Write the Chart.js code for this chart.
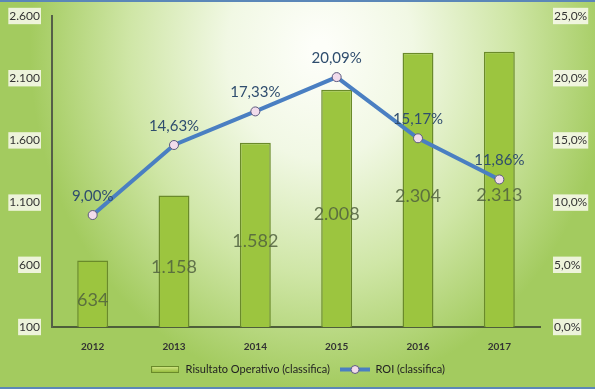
<!DOCTYPE html>
<html>
<head>
<meta charset="utf-8">
<script src="https://cdn.jsdelivr.net/npm/chart.js@4.4.1/dist/chart.umd.min.js"></script>
<style>
  html, body { margin: 0; padding: 0; background: #ffffff; }
  #wrap { width: 595px; height: 389px; }
</style>
</head>
<body>
<div id="wrap"><canvas id="grafico" width="595" height="389"></canvas></div>
<script>
var anni = ["2012", "2013", "2014", "2015", "2016", "2017"];
var risultatoOperativo = [634, 1158, 1582, 2008, 2304, 2313];
var roi = [9.00, 14.63, 17.33, 20.09, 15.17, 11.86];

function numIt(v) {
    return Math.round(v).toString().replace(/\B(?=(\d{3})+(?!\d))/g, ".");
}
function pctIt(v, dec) {
    return v.toFixed(dec).replace(".", ",") + "%";
}

// icone legenda
function iconaBarra() {
    var cv = document.createElement("canvas");
    cv.width = 28; cv.height = 7;
    var c = cv.getContext("2d");
    var g = c.createLinearGradient(0, 0, 0, 7);
    g.addColorStop(0, "#d8ec8c");
    g.addColorStop(1, "#8db533");
    c.fillStyle = g;
    c.fillRect(0, 0, 28, 7);
    c.strokeStyle = "#6a8a2a";
    c.strokeRect(0.5, 0.5, 27, 6);
    return cv;
}
function iconaLinea() {
    var cv = document.createElement("canvas");
    cv.width = 30; cv.height = 11;
    var c = cv.getContext("2d");
    c.strokeStyle = "#4a7fc2";
    c.lineWidth = 4;
    c.beginPath(); c.moveTo(0, 5.5); c.lineTo(30, 5.5); c.stroke();
    c.fillStyle = "#f2dcec";
    c.strokeStyle = "#5d5a7e";
    c.lineWidth = 1;
    c.beginPath(); c.arc(15, 5.5, 4, 0, Math.PI * 2); c.fill(); c.stroke();
    return cv;
}
var icone = [iconaBarra(), iconaLinea()];

// sfondo sfumato ellittico + bordi blu
var sfondo = {
    id: "sfondo",
    beforeDraw: function (chart) {
        var c = chart.ctx, w = chart.width, h = chart.height;
        c.save();
        c.fillStyle = "#a3cb5f";
        c.fillRect(0, 0, w, h);
        c.translate(320, 50);
        c.scale(290 / 340, 1);
        var g = c.createRadialGradient(0, 0, 10, 0, 0, 340);
        g.addColorStop(0, "#fdfef9");
        g.addColorStop(0.3, "#f1f8e4");
        g.addColorStop(0.65, "#cfe6a6");
        g.addColorStop(1, "#a3cb5f");
        c.fillStyle = g;
        c.fillRect(-800, -400, 1600, 1000);
        c.restore();
        c.save();
        c.fillStyle = "#5b87b8";
        c.fillRect(0, 0, w, 2);
        c.fillRect(0, h - 2, w, 2);
        c.restore();
    }
};

// etichette dati
var etichette = {
    id: "etichette",
    afterDatasetsDraw: function (chart) {
        var c = chart.ctx;
        c.save();
        c.textAlign = "center";
        c.textBaseline = "middle";
        var barre = chart.getDatasetMeta(0);
        c.font = "18px Lato, 'Open Sans', sans-serif";
        c.fillStyle = "rgba(80, 96, 62, 0.85)";
        barre.data.forEach(function (el, i) {
            var mid = (el.y + el.base) / 2;
            c.fillText(numIt(risultatoOperativo[i]), el.x, mid);
        });
        var linea = chart.getDatasetMeta(1);
        c.font = "15px Lato, 'Open Sans', sans-serif";
        c.fillStyle = "#2f4d6e";
        linea.data.forEach(function (el, i) {
            c.fillText(pctIt(roi[i], 2), el.x, el.y - 19);
        });
        c.restore();
    }
};

var ctx = document.getElementById("grafico").getContext("2d");
var grafico = new Chart(ctx, {
    type: "bar",
    data: {
        labels: anni,
        datasets: [{
            type: "bar",
            label: "Risultato Operativo (classifica)",
            data: risultatoOperativo,
            yAxisID: "y",
            backgroundColor: "#9cc53f",
            borderColor: "#6a8a2a",
            borderWidth: 1.5,
            barPercentage: 0.38,
            categoryPercentage: 1,
            order: 2
        }, {
            type: "line",
            label: "ROI (classifica)",
            data: roi,
            yAxisID: "y1",
            borderColor: "#4a7fc2",
            backgroundColor: "#4a7fc2",
            borderWidth: 4,
            pointRadius: 4.5,
            pointBackgroundColor: "#f2dcec",
            pointBorderColor: "#5d5a7e",
            pointBorderWidth: 1,
            tension: 0,
            order: 1
        }]
    },
    options: {
        responsive: false,
        animation: false,
        layout: { autoPadding: false, padding: { top: 16, right: 4, left: 4, bottom: 4 } },
        plugins: {
            legend: {
                display: true,
                position: "bottom",
                labels: {
                    usePointStyle: true,
                    pointStyleWidth: 30,
                    boxHeight: 11,
                    padding: 10,
                    color: "#222222",
                    font: { family: "Lato, 'Open Sans', sans-serif", size: 11 },
                    sort: function (a, b) { return a.datasetIndex - b.datasetIndex; },
                    generateLabels: function (chart) {
                        var items = Chart.defaults.plugins.legend.labels.generateLabels(chart);
                        items.forEach(function (it) {
                            it.pointStyle = icone[it.datasetIndex];
                        });
                        return items;
                    }
                }
            },
            tooltip: { enabled: false }
        },
        scales: {
            x: {
                grid: { display: false, drawTicks: false },
                border: { display: true, color: "#4e5e3a", width: 2 },
                ticks: {
                    color: "#333333",
                    padding: 14,
                    font: { family: "Lato, 'Open Sans', sans-serif", size: 10, weight: "bold" }
                },
                afterFit: function (s) { s.height = 27; }
            },
            y: {
                position: "left",
                min: 100,
                max: 2600,
                grid: { display: false, drawTicks: false },
                border: { display: true, color: "#555f48", width: 2 },
                ticks: {
                    stepSize: 500,
                    color: "#333333",
                    padding: 12,
                    font: { family: "Lato, 'Open Sans', sans-serif", size: 12 },
                    showLabelBackdrop: true,
                    backdropColor: "rgba(250, 250, 240, 0.85)",
                    backdropPadding: 1,
                    callback: function (v) { return numIt(v); }
                },
                afterFit: function (s) { s.width = 48; s.paddingTop = 8; s.paddingBottom = 8; }
            },
            y1: {
                position: "right",
                min: 0,
                max: 25,
                grid: { display: false, drawTicks: false },
                border: { display: false },
                ticks: {
                    stepSize: 5,
                    color: "#333333",
                    padding: 14,
                    font: { family: "Lato, 'Open Sans', sans-serif", size: 12 },
                    showLabelBackdrop: true,
                    backdropColor: "rgba(250, 250, 240, 0.85)",
                    backdropPadding: 1,
                    callback: function (v) { return pctIt(v, 1); }
                },
                afterFit: function (s) { s.width = 51; s.paddingTop = 8; s.paddingBottom = 8; }
            }
        }
    },
    plugins: [sfondo, etichette]
});
</script>
</body>
</html>
